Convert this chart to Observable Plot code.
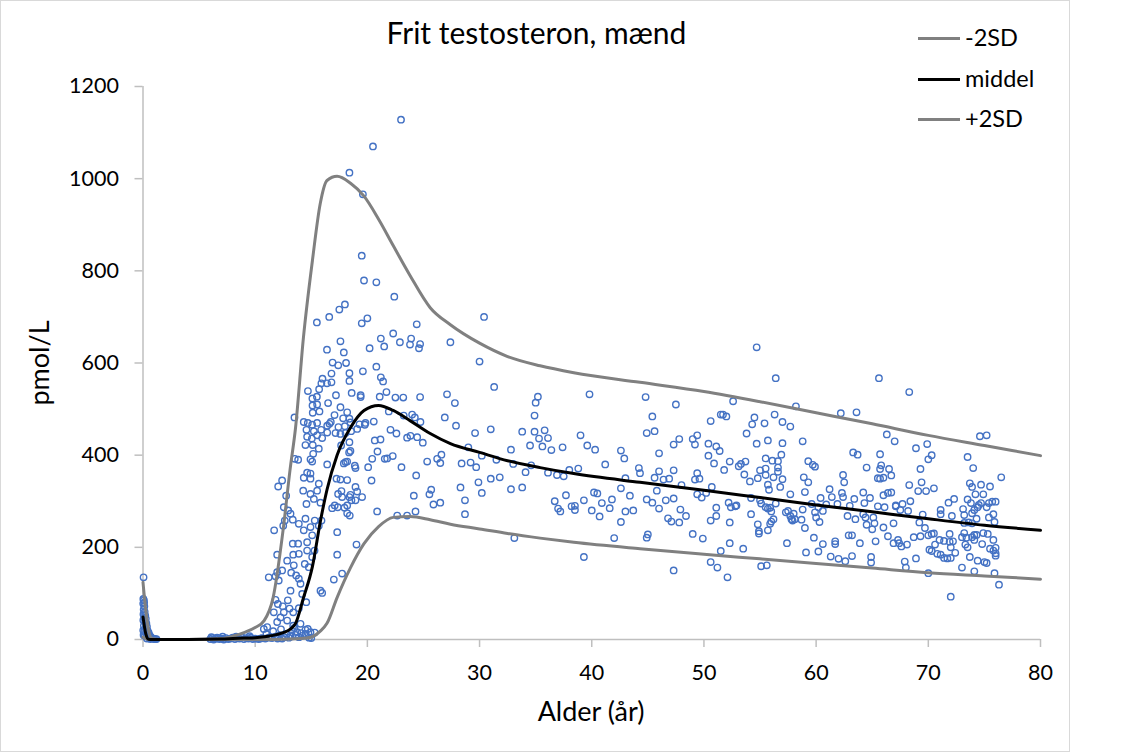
<!DOCTYPE html>
<html><head><meta charset="utf-8">
<script src="https://cdn.jsdelivr.net/npm/d3@7"></script>
<script src="https://cdn.jsdelivr.net/npm/@observablehq/plot@0.6"></script>
<style>
body{margin:0;background:#fff;}
#wrap{position:relative;width:1134px;height:756px;font-family:Lato,"Open Sans",sans-serif;color:#000;overflow:hidden;}
#plot{position:absolute;left:0;top:0;}
#frame{position:absolute;left:0;top:0;width:1068px;height:750px;border:1.5px solid #d9d9d9;pointer-events:none;}
#title{position:absolute;left:0;width:1073px;top:17px;text-align:center;font-size:30px;line-height:30px;white-space:nowrap;}
.axt{position:absolute;font-size:27px;line-height:27px;white-space:nowrap;}
#xt{left:0;width:1182px;top:697px;text-align:center;}
#yt{left:38px;top:363px;transform:translate(-50%,-50%) rotate(-90deg);}
.legln{position:absolute;left:918px;width:42px;height:3px;}
.legtx{position:absolute;left:965px;font-size:23.5px;line-height:23.5px;white-space:nowrap;}
</style></head>
<body>
<div id="wrap">
  <div id="plot"></div>
  <div id="frame"></div>
  <div id="title"></div>
  <div id="xt" class="axt"></div>
  <div id="yt" class="axt"></div>
  <div id="legend"></div>
</div>
<script>
const titleText = "Frit testosteron, mænd";
const xTitle = "Alder (år)";
const yTitle = "pmol/L";
const xTicks = [0, 10, 20, 30, 40, 50, 60, 70, 80];
const yTicks = [0, 200, 400, 600, 800, 1000, 1200];
const seriesNames = ["-2SD", "middel", "+2SD"];
const seriesColors = ["#808080", "#000000", "#808080"];

// Reference curves
const curveAges = [0,0.25,0.5,0.8,1.5,4,7,8,9,10,10.8,11.6,12.5,13.1,13.6,14.3,15.1,15.8,16.4,17.3,18.5,19.7,21,22.3,23.8,25.6,27.4,30,32.5,35.4,38.4,44.3,50,55,60,65,70,75,80];
const minus2SD = [5,2,0,0,0,0,0,0,0,0,0,0,0.5,1,1.5,2.5,6,18,35,91,156,208,245,265,267,260,250,240,230,220,211,197,185,175,165,155,145,138,131];
const middel = [49,12,0.5,0,0,0,1,2,3,4,6,9,15,22,35,90,158,255,325,400,460,497,508,497,475,447,425,406,388,373,360,341,324,308,292,277,262,248,237];
const plus2SD = [124,63,20,2,0,0,2,7,15,26,41,91,240,367,460,655,822,946,996,1005,990,962,912,855,790,720,683,643,614,594,579,558,538,516,492,468,443,421,399];

// Measurements [age, pmol/L]
const infantPts = [[0.05,135],[0.03,88],[0.08,85],[0.1,80],[0.02,78],[0.12,72],[0.06,65],[0.15,60],[0.04,55],[0.2,52],[0.1,48],[0.25,45],[0.03,42],[0.18,38],[0.3,35],[0.08,30],[0.35,28],[0.22,25],[0.4,20],[0.12,18],[0.5,15],[0.3,12],[0.6,9],[0.45,7],[0.7,5],[0.8,3],[0.9,2],[1.0,1],[1.1,1],[1.2,1],[0.55,3],[0.65,1],[0.35,2],[0.05,10],[0.02,20],[0.15,8]];
const childPts = [[6.0,1],[6.2,3],[6.3,0],[6.5,2],[6.6,4],[6.8,1],[7.0,2],[7.2,0],[7.4,3],[7.6,1],[7.8,2],[8.0,4],[8.2,1],[8.4,3],[8.6,2],[8.8,5],[9.0,1],[9.2,3],[9.4,2],[9.6,4],[9.8,1],[6.1,5],[7.1,6],[8.3,6],[9.5,7],[10.0,2],[10.3,1],[10.6,3],[10.9,2],[11.2,4],[11.5,3],[11.8,6],[12.0,2],[12.2,9],[12.6,5],[12.8,12],[13.0,4],[13.3,7],[13.6,10],[13.9,5],[14.2,8],[14.5,12],[14.8,4],[15.0,3],[15.3,15],[11.0,12],[11.6,18],[12.3,22],[13.5,25],[14.1,14]];
const pubertyLowPts = [[15.11,508],[15.52,510],[16.5,513],[17.6,504],[18.2,493],[15.13,492],[15.73,495],[17.07,487],[17.84,480],[18.4,479],[13.5,482],[14.33,472],[14.69,470],[15.08,466],[15.52,470],[15.88,455],[16.42,464],[16.74,472],[16.62,468],[17.42,461],[17.99,463],[18.49,471],[19.3,467],[19.83,470],[20.57,473],[21.91,495],[23.24,486],[23.99,488],[24.23,482],[24.73,472],[14.57,455],[15.23,452],[14.63,440],[15.05,436],[15.52,443],[15.97,437],[16.42,449],[17.16,448],[17.6,446],[18.05,448],[18.55,452],[19.09,457],[19.77,466],[22.06,455],[22.59,447],[23.54,438],[23.84,442],[24.44,439],[24.94,427],[20.66,432],[21.17,434],[14.48,422],[15.13,422],[15.67,414],[15.17,403],[14.93,391],[15.08,386],[17.66,421],[18.4,428],[18.37,406],[18.49,409],[17.9,382],[18.05,385],[18.2,386],[18.88,377],[18.94,372],[20.07,374],[20.43,392],[20.9,408],[21.55,392],[21.76,393],[22.26,398],[23.04,374],[24.35,356],[25.33,386],[26.22,392],[13.53,392],[13.83,390],[16.42,380],[17.25,349],[17.6,347],[18.2,346],[18.94,331],[19.53,309],[19.09,321],[18.49,314],[17.39,316],[17.75,309],[18.4,309],[17.96,286],[18.2,274],[18.2,291],[17.09,291],[16.86,285],[17.36,287],[15.82,297],[14.93,316],[15.23,305],[15.52,323],[15.67,338],[14.93,349],[14.28,323],[14.57,294],[14.33,351],[14.63,362],[14.93,360],[20.37,345],[24.14,312],[25.69,325],[25.53,315],[25.89,293],[12.4,345],[12.05,332],[12.76,312],[12.55,287],[12.94,280],[13.15,273],[12.64,258],[13.35,260],[11.69,237],[12.5,247],[13.89,251],[14.48,262],[14.93,244],[14.33,237],[15.31,258],[15.91,258],[15.67,247],[15.08,226],[14.63,211],[13.83,208],[13.35,208],[14.63,193],[15.29,193],[15.08,179],[14.42,164],[14.78,157],[13.89,186],[13.39,184],[11.96,184],[12.85,171],[13.44,161],[13.21,145],[11.96,146],[12.4,150],[11.21,135],[11.81,137],[12.1,128],[13.65,139],[13.89,132],[14.04,121],[14.19,99],[13.15,106],[12.91,85],[12.02,77],[11.81,86],[12.46,72],[13.06,67],[14.55,81],[13.89,68],[13.39,59],[12.55,59],[12.26,48],[11.66,59],[12.85,41],[11.96,38],[11.07,27],[10.77,23],[13.39,30],[14.04,34],[14.48,21],[14.69,23],[13.74,16],[14.93,16],[13.15,9],[12.4,2],[11.36,5],[10.47,2],[17.31,233],[17.31,184],[19.03,206],[17.75,143],[17.01,130],[15.82,106],[15.97,101],[20.87,278],[22.66,269],[23.54,269],[24.29,278],[18.58,302],[17.69,322],[18.94,302],[18.43,269]];
const pubertyHighPts = [[18.4,1013],[19.6,966],[20.5,1070],[23.0,1128],[19.5,833],[19.7,779],[20.8,775],[22.4,744],[15.5,688],[16.6,700],[17.5,716],[18.0,727],[19.5,686],[20.0,697],[24.4,684],[17.6,647],[16.4,629],[17.9,623],[20.2,632],[21.2,653],[21.5,636],[22.3,664],[22.9,645],[23.9,653],[23.8,640],[24.7,641],[24.6,632],[16.9,601],[17.4,595],[18.1,600],[16.8,577],[18.4,578],[19.6,582],[20.8,592],[21.2,569],[21.4,560],[18.4,561],[16.0,566],[15.9,556],[16.4,556],[16.8,558],[15.7,543],[14.7,539],[15.5,527],[15.1,523],[17.2,530],[18.6,535],[19.4,530],[19.4,526],[21.1,527],[21.7,537],[22.5,525],[23.2,525],[24.7,526]];
const adult30Pts = [[30.4,700],[27.4,645],[30.0,603],[31.3,548],[27.1,532],[27.8,513],[35.2,527],[35.0,514],[39.8,532],[26.9,482],[27.9,464],[34.9,486],[29.6,448],[31.0,456],[33.8,451],[34.9,451],[35.8,454],[35.3,436],[36.1,437],[34.5,421],[35.6,419],[36.4,411],[37.4,417],[39.0,443],[39.6,421],[40.3,412],[42.6,410],[42.9,393],[29.0,417],[26.6,401],[26.5,383],[28.4,382],[29.2,384],[29.7,374],[30.2,399],[31.5,390],[32.8,412],[33.0,381],[34.1,363],[34.6,378],[36.1,362],[36.9,357],[37.5,354],[38.0,368],[38.8,371],[41.2,380],[44.2,372],[44.3,361],[43.0,350],[28.3,330],[28.7,302],[26.5,297],[28.7,272],[29.9,341],[30.2,318],[31.0,349],[31.8,352],[32.8,326],[33.8,330],[36.7,300],[37.0,284],[37.2,278],[37.7,313],[38.2,289],[38.5,290],[38.5,281],[39.3,302],[40.2,319],[40.5,317],[40.0,280],[40.9,296],[40.7,267],[41.6,285],[41.8,304],[42.6,328],[43.4,312],[43.0,278],[43.7,280],[42.6,255],[42.0,220],[33.1,220],[39.3,179]];
const adult50Pts = [[54.7,634],[56.4,567],[44.8,526],[47.5,510],[52.6,517],[58.2,506],[45.4,484],[51.5,488],[51.7,488],[52.0,484],[50.6,474],[54.5,482],[54.3,467],[55.4,469],[56.3,488],[57.0,472],[57.7,462],[44.9,448],[45.6,452],[47.8,435],[47.3,423],[49.0,435],[49.4,443],[49.2,423],[53.8,447],[54.7,425],[55.7,432],[57.0,426],[58.8,430],[46.0,404],[50.4,425],[51.1,419],[51.4,409],[50.4,399],[50.9,382],[52.3,386],[51.8,368],[53.1,376],[53.3,381],[53.7,386],[55.5,393],[56.1,388],[56.6,387],[56.9,401],[59.3,387],[59.7,379],[59.9,375],[45.6,351],[46.0,365],[46.4,347],[46.9,349],[47.3,367],[49.4,361],[49.2,347],[49.6,349],[48.0,335],[50.7,331],[53.6,358],[54.1,343],[54.8,350],[55.0,367],[55.5,371],[55.5,357],[56.2,352],[56.6,373],[56.6,364],[57.0,348],[55.7,336],[56.8,331],[55.8,325],[58.9,352],[59.3,341],[59.0,320],[57.7,315],[60.4,307],[44.9,304],[45.4,297],[45.8,323],[46.0,284],[46.6,302],[47.3,306],[47.9,282],[48.4,268],[46.8,263],[47.1,256],[47.8,254],[49.4,315],[49.8,308],[50.2,318],[51.1,286],[51.1,268],[50.6,258],[52.2,297],[52.4,287],[52.8,289],[52.9,291],[52.3,254],[54.2,307],[54.2,272],[55.0,302],[55.1,295],[55.5,287],[55.7,284],[55.9,286],[56.0,278],[56.4,295],[57.3,276],[57.5,279],[57.7,268],[58.0,273],[57.8,261],[57.9,258],[58.1,261],[58.7,260],[58.8,282],[59.6,294],[59.9,276],[60.0,265],[60.3,255],[54.8,250],[54.9,235],[54.9,230],[55.7,237],[55.9,251],[56.0,256],[56.2,261],[59.0,242],[44.9,221],[45.0,228],[49.0,229],[49.9,219],[52.3,209],[53.5,197],[51.5,192],[57.4,209],[59.8,221],[59.1,189],[60.2,191],[50.6,168],[51.2,156],[55.1,159],[55.6,161],[52.1,135],[47.3,150]];
const adult70Pts = [[65.6,567],[68.3,537],[62.2,491],[63.6,493],[66.3,445],[67.0,430],[68.9,415],[69.9,424],[70.3,400],[70.0,391],[74.6,441],[75.2,443],[73.5,396],[74.0,372],[76.5,352],[63.3,406],[63.7,401],[65.7,402],[65.8,378],[65.7,370],[64.5,373],[66.5,370],[66.7,356],[65.5,350],[65.7,349],[66.0,351],[62.4,357],[62.5,341],[69.3,370],[69.4,341],[68.3,335],[69.1,322],[69.8,322],[70.5,328],[73.7,339],[74.7,336],[75.5,332],[73.9,331],[74.2,315],[74.9,315],[61.2,326],[62.3,318],[62.4,309],[61.4,309],[64.2,319],[64.8,307],[66.0,313],[66.4,318],[66.7,319],[63.4,305],[64.3,296],[65.5,289],[66.1,287],[67.1,289],[67.7,294],[68.4,300],[60.2,287],[60.6,279],[60.9,293],[61.9,294],[63.0,290],[62.8,268],[63.5,261],[64.2,272],[64.4,265],[65.1,265],[64.5,249],[65.0,239],[65.2,252],[66.0,243],[66.9,252],[67.1,291],[67.5,281],[68.2,279],[69.5,271],[69.2,254],[69.7,242],[71.1,281],[71.1,272],[72.1,268],[71.8,297],[72.3,305],[73.5,304],[73.8,296],[73.1,283],[73.2,270],[73.9,274],[74.1,281],[74.4,287],[74.5,292],[74.7,296],[75.2,287],[75.4,296],[75.7,299],[76.0,299],[75.8,272],[75.4,265],[75.9,255],[74.3,262],[73.9,252],[73.6,254],[73.2,253],[60.6,207],[61.7,213],[61.7,207],[61.3,180],[62.0,175],[62.6,170],[63.2,181],[62.9,226],[63.2,226],[63.9,209],[65.3,213],[64.9,179],[64.9,167],[66.4,224],[66.9,209],[67.3,216],[67.4,209],[67.6,202],[68.1,206],[68.7,222],[69.3,224],[68.9,176],[67.9,169],[68.0,156],[70.0,144],[70.0,226],[70.3,229],[70.5,230],[70.1,195],[70.3,192],[70.6,206],[70.8,186],[71.1,184],[71.4,177],[71.7,176],[72.0,177],[71.0,216],[71.4,214],[71.9,212],[72.2,213],[71.9,229],[72.0,200],[72.4,188],[73.0,222],[73.2,231],[73.3,206],[73.5,200],[73.4,221],[73.9,222],[74.1,227],[74.3,227],[74.1,216],[74.8,207],[74.9,231],[75.3,229],[75.8,216],[75.5,197],[75.8,193],[76.0,187],[76.0,182],[76.0,199],[74.4,171],[75.0,168],[75.2,166],[74.1,148],[73.7,179],[73.0,156],[75.9,144],[76.3,119],[72.0,93]];

const points = [...infantPts, ...childPts, ...pubertyLowPts, ...pubertyHighPts, ...adult30Pts, ...adult50Pts, ...adult70Pts]
  .map(([age, val]) => ({age, val}));
const curves = curveAges.map((a, i) => ({age: a, minus: minus2SD[i], mid: middel[i], plus: plus2SD[i]}));

const chart = Plot.plot({
  width: 1134, height: 756,
  marginLeft: 142.5, marginRight: 94, marginTop: 86, marginBottom: 117,
  x: {domain: [0, 80]},
  y: {domain: [0, 1200]},
  style: {fontFamily: "Lato, 'Open Sans', sans-serif", fontSize: "21.5px", color: "#000", background: "transparent", overflow: "visible"},
  marks: [
    Plot.axisX({ticks: xTicks, tickSize: 8, tickPadding: 17, label: null, stroke: "#bfbfbf", strokeWidth: 1.5, fill: "#000", tickFormat: d => String(d)}),
    Plot.axisY({ticks: yTicks, tickSize: 8, tickPadding: 16, label: null, stroke: "#bfbfbf", strokeWidth: 1.5, fill: "#000", tickFormat: d => String(d)}),
    Plot.ruleY([0], {stroke: "#bfbfbf", strokeWidth: 1.5}),
    Plot.ruleX([0], {stroke: "#bfbfbf", strokeWidth: 1.5}),
    Plot.dot(points, {x: "age", y: "val", r: 3.2, stroke: "#4472c4", strokeWidth: 1.4, fill: "none"}),
    Plot.line(curves, {x: "age", y: "minus", stroke: seriesColors[0], strokeWidth: 3, curve: "monotone-x"}),
    Plot.line(curves, {x: "age", y: "plus", stroke: seriesColors[2], strokeWidth: 3, curve: "monotone-x"}),
    Plot.line(curves, {x: "age", y: "mid", stroke: seriesColors[1], strokeWidth: 3, curve: "monotone-x"})
  ]
});
document.getElementById("plot").appendChild(chart);
document.getElementById("title").textContent = titleText;
document.getElementById("xt").textContent = xTitle;
document.getElementById("yt").textContent = yTitle;

const legend = document.getElementById("legend");
const legendY = [38, 79, 119];
seriesNames.forEach((name, i) => {
  const ln = document.createElement("div");
  ln.className = "legln";
  ln.style.top = (legendY[i] - 1.5) + "px";
  ln.style.background = seriesColors[i];
  legend.appendChild(ln);
  const tx = document.createElement("div");
  tx.className = "legtx";
  tx.style.top = (legendY[i] - 12.5) + "px";
  tx.textContent = name;
  legend.appendChild(tx);
});
</script>
</body></html>
